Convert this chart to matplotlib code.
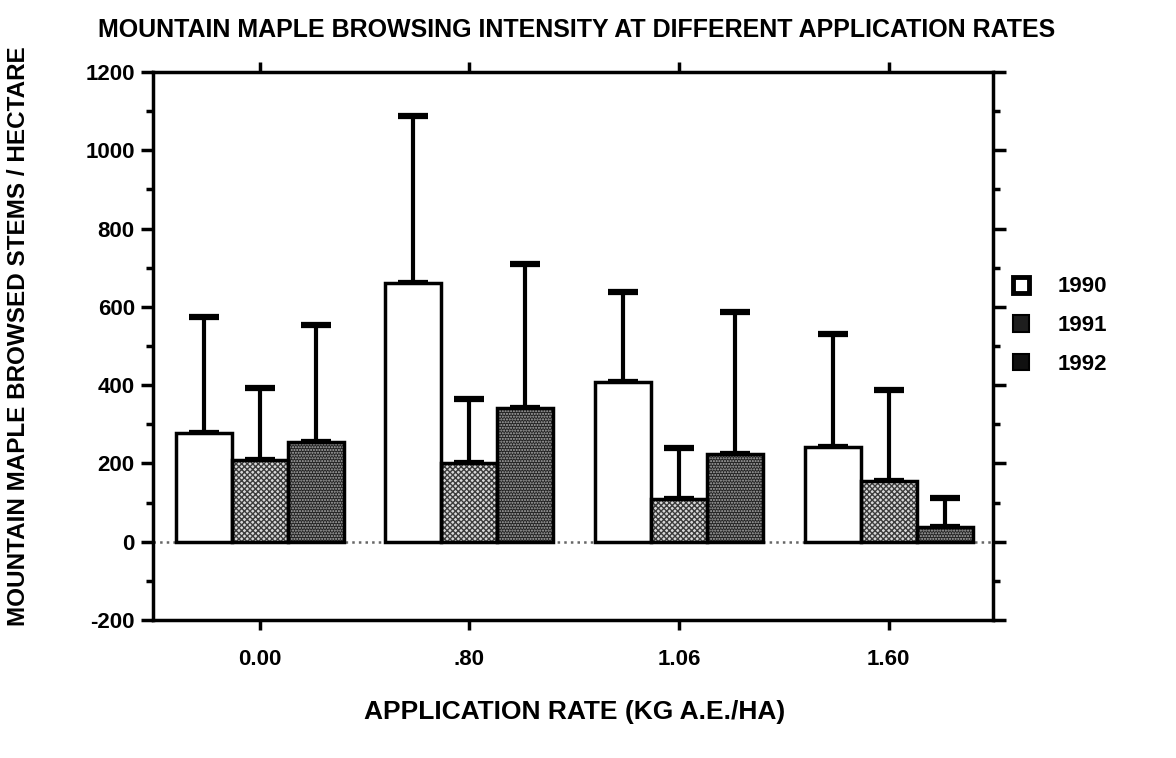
import matplotlib.pyplot as plt
import numpy as np

# mean browsed stems per hectare and upper end of the error bar
rates = ['0.00', '.80', '1.06', '1.60']
years = ['1990', '1991', '1992']
mean_1990 = [277, 660, 407, 241]
mean_1991 = [209, 200, 109, 156]
mean_1992 = [255, 341, 223, 38]
upper_1990 = [575, 1087, 637, 532]
upper_1991 = [393, 365, 239, 388]
upper_1992 = [554, 709, 588, 111]

plt.rcParams['font.family'] = ['Liberation Sans', 'DejaVu Sans']
plt.rcParams['font.weight'] = 'bold'
plt.rcParams['axes.unicode_minus'] = False
plt.rcParams['hatch.linewidth'] = 1.0

fig = plt.figure(figsize=(11.76, 7.58), dpi=100)
ax = fig.add_axes([0.130, 0.182, 0.714, 0.723])

x = np.arange(len(rates))
w = 0.267
styles = [
    dict(fc='white', hatch=None, hc='white'),
    dict(fc='#d8d8d8', hatch='xxxxxx', hc='#3c3c3c'),
    dict(fc='#222222', hatch='......', hc='#b0b0b0'),
]
means = [mean_1990, mean_1991, mean_1992]
uppers = [upper_1990, upper_1991, upper_1992]

for i, (m, u, st) in enumerate(zip(means, uppers, styles)):
    pos = x + (i - 1) * w
    m = np.array(m)
    u = np.array(u)
    # error bars only go upward
    ax.errorbar(pos, m, yerr=[np.zeros_like(m), u - m], fmt='none',
                ecolor='black', elinewidth=3, capsize=11, capthick=4.5,
                zorder=1)
    # texture layer, then a black outline on top
    ax.bar(pos, m, w, color=st['fc'], edgecolor=st['hc'], hatch=st['hatch'],
           linewidth=0, zorder=2)
    ax.bar(pos, m, w, facecolor='none', edgecolor='black',
           linewidth=2.5, zorder=3)

ax.axhline(0, color='#666666', linestyle=':', linewidth=1.8, zorder=0)

ax.set_xlim(-0.51, 3.495)
ax.set_ylim(-200, 1200)
ax.set_yticks(np.arange(-200, 1201, 200))
ax.set_yticks(np.arange(-200, 1201, 100), minor=True)
ax.set_xticks(x)
ax.set_xticklabels(rates)

for s in ax.spines.values():
    s.set_linewidth(2.5)
ax.tick_params(axis='y', which='major', direction='out', length=9, width=2.5,
               left=True, right=True, labelsize=16, pad=4)
ax.tick_params(axis='y', which='minor', direction='out', length=5, width=2.5,
               left=True, right=True)
ax.tick_params(axis='x', which='major', direction='out', length=7, width=2.5,
               bottom=True, top=True, labelsize=16, pad=14)

fig.text(0.49, 0.960,
         'MOUNTAIN MAPLE BROWSING INTENSITY AT DIFFERENT APPLICATION RATES',
         ha='center', va='center', fontsize=18, fontweight='bold')
fig.text(0.0155, 0.557, 'MOUNTAIN MAPLE BROWSED STEMS / HECTARE',
         rotation=90, ha='center', va='center', fontsize=17.5,
         fontweight='bold')
fig.text(0.489, 0.061, 'APPLICATION RATE (KG A.E./HA)',
         ha='center', va='center', fontsize=19, fontweight='bold')

# legend markers look near solid at this size
leg_handles = [
    plt.Rectangle((0, 0), 1, 1, fc='white', ec='black', lw=3.5),
    plt.Rectangle((0, 0), 1, 1, fc='#1e1e1e', ec='black', lw=1.5),
    plt.Rectangle((0, 0), 1, 1, fc='#101010', ec='black', lw=1.5),
]
ax.legend(leg_handles, years, loc='center left', bbox_to_anchor=(1.0, 0.537),
          frameon=False, fontsize=16, handlelength=0.75, handleheight=0.75,
          handletextpad=1.3, labelspacing=0.8)

fig.savefig('out.png', dpi=100)
